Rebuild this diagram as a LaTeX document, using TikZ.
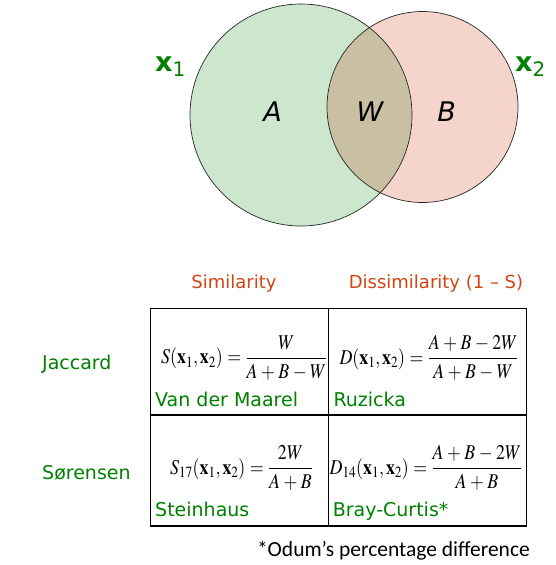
\documentclass[tikz,border=0pt]{standalone}
\usepackage{mathptmx}
\usepackage[no-math]{fontspec}
\newfontfamily\labfont{DejaVu Sans}
\newfontfamily\footfont{Carlito}
\definecolor{lgreen}{RGB}{0,128,0}
\definecolor{hdred}{RGB}{210,68,16}
\definecolor{cgreen}{RGB}{205,230,206}
\definecolor{cpink}{RGB}{245,213,203}
\definecolor{ctan}{RGB}{201,192,163}
\newcommand{\fml}[1]{\scalebox{0.85}[1]{$\displaystyle #1$}}
\tikzset{
  setlab/.style={font=\labfont\fontsize{27}{30}\selectfont\itshape, inner sep=0pt, anchor=base},
  xlab/.style={font=\labfont\fontsize{27}{30}\selectfont, text=lgreen, inner sep=0pt, anchor=base west},
  head/.style={font=\labfont\fontsize{18}{21}\selectfont, text=hdred, inner sep=0pt, anchor=base},
  rowlab/.style={font=\labfont\fontsize{19}{22}\selectfont, text=lgreen, inner sep=0pt, anchor=base west},
  namelab/.style={font=\labfont\fontsize{19}{22}\selectfont, text=lgreen, inner sep=0pt, anchor=base west},
  formula/.style={font=\fontsize{21}{24}\selectfont, inner sep=0pt},
  tgrid/.style={line width=1.3pt, draw=black},
  venn/.style={draw=black!85, line width=0.7pt}
}
\begin{document}
\begin{tikzpicture}[x=1pt,y=-1pt]
\useasboundingbox (0,0) rectangle (555,565);
% Venn circles
\coordinate (c1) at (301,115);
\coordinate (c2) at (422.5,107);
\fill[cgreen] (c1) circle[radius=111pt];
\fill[cpink] (c2) circle[radius=95.5pt];
\begin{scope}
  \clip (c1) circle[radius=111pt];
  \fill[ctan] (c2) circle[radius=95.5pt];
\end{scope}
\draw[venn] (c1) circle[radius=111pt];
\draw[venn] (c2) circle[radius=95.5pt];
\node[setlab] (la) at (272.7,121.7) {A};
\node[setlab] (lw) at (370,121.7) {W};
\node[setlab] (lb) at (446.7,121.7) {B};
\node[xlab] (x1) at (155,71.7) {\textbf{x}\raisebox{-0.3ex}{\fontsize{20}{22}\selectfont 1}};
\node[xlab] (x2) at (515,71.7) {\textbf{x}\raisebox{-0.3ex}{\fontsize{20}{22}\selectfont 2}};
% headers
\node[head] (hs) at (234,288.3) {Similarity};
\node[head] (hd) at (436,288.3) {Dissimilarity (1 – S)};
% row labels
\node[rowlab] (rj) at (42,369) {Jaccard};
\node[rowlab] (rs) at (42,479.3) {Sørensen};
% table
\coordinate (tl) at (150.5,308.3);
\coordinate (br) at (526.7,526);
\draw[tgrid] (tl) rectangle (br);
\draw[tgrid] (328.3,308.3) -- (328.3,526);
\draw[tgrid] (150.5,415) -- (526.7,415);
% formulas
\medmuskip=3.5mu plus 1mu minus 1mu
\thickmuskip=4.5mu plus 2mu
\node[formula, anchor=east] (f1) at (327.5,358) {\fml{S(\mathbf{x}_1,\mathbf{x}_2)=\frac{W}{A+B-W}}};
\node[formula] (f2) at (429,358) {\fml{D(\mathbf{x}_1,\mathbf{x}_2)=\frac{A+B-2W}{A+B-W}}};
\node[formula] (f3) at (241.5,468) {\fml{S_{17}(\mathbf{x}_1,\mathbf{x}_2)=\frac{2W}{A+B}}};
\node[formula] (f4) at (426,468) {\fml{D_{14}(\mathbf{x}_1,\mathbf{x}_2)=\frac{A+B-2W}{A+B}}};
% names
\node[namelab] (n1) at (155,406.7) {Van der Maarel};
\node[namelab] (n2) at (333.3,406.7) {Ruzicka};
\node[namelab] (n3) at (155,516.7) {Steinhaus};
\node[namelab] (n4) at (332.7,516.7) {Bray-Curtis*};
% footnote
\node[font=\footfont\fontsize{21.5}{24}\selectfont, inner sep=0pt, anchor=base east] (fn) at (530,556.7) {*Odum’s percentage difference};
\end{tikzpicture}
\end{document}
